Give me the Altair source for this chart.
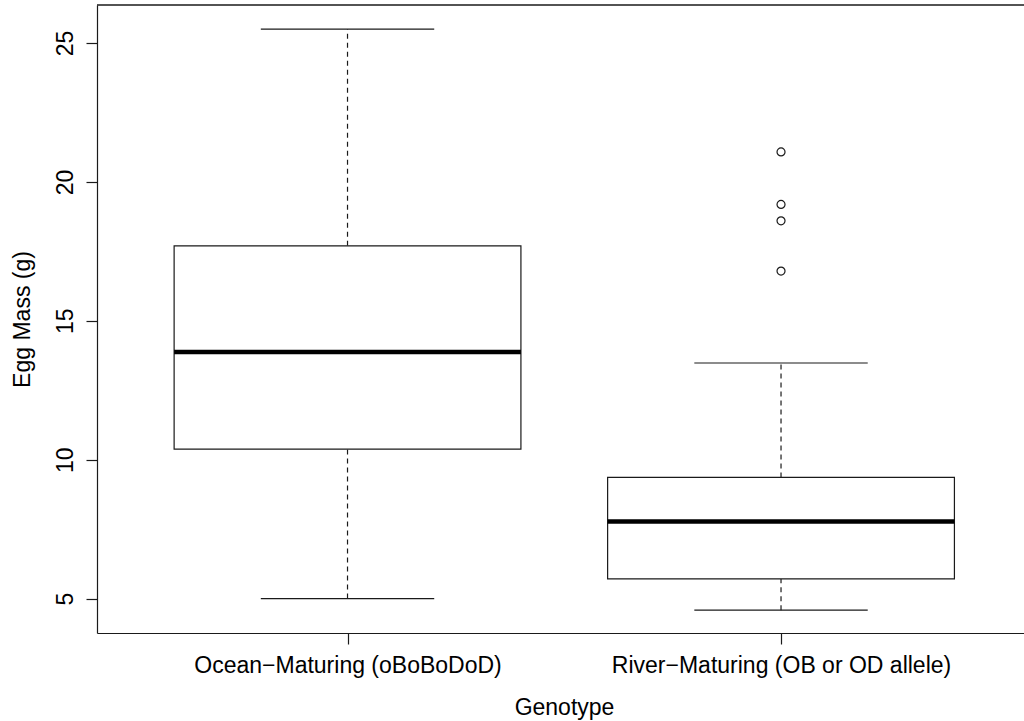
import altair as alt
import pandas as pd

# ---- data ----
groups = ["Ocean\u2212Maturing (oBoBoDoD)", "River\u2212Maturing (OB or OD allele)"]
positions = [1, 2]
lower_whisker = [5.00, 4.58]
q1 = [10.38, 5.71]
medians = [13.88, 7.77]
q3 = [17.70, 9.36]
upper_whisker = [25.50, 13.48]
outlier_positions = [2, 2, 2, 2]
outlier_values = [16.79, 18.60, 19.19, 21.08]
y_ticks = [5, 10, 15, 20, 25]

# ---- style / layout constants ----
BOX_HALF = 0.4
CAP_HALF = 0.2
FONT = "Liberation Sans"
FS = 23
LINE = "#1a1a1a"
W, H = 927, 628

box_df = pd.DataFrame({
    "group": groups,
    "pos": positions,
    "lower": lower_whisker,
    "q1": q1,
    "median": medians,
    "q3": q3,
    "upper": upper_whisker,
})
box_df["left"] = box_df["pos"] - BOX_HALF
box_df["right"] = box_df["pos"] + BOX_HALF
box_df["capL"] = box_df["pos"] - CAP_HALF
box_df["capR"] = box_df["pos"] + CAP_HALF

out_df = pd.DataFrame({"pos": outlier_positions, "value": outlier_values})

x_scale = alt.Scale(domain=[0.4221, 2.5605], nice=False, zero=False)
y_scale = alt.Scale(domain=[3.76, 26.37], nice=False, zero=False)

label_expr = " : ".join(
    f"datum.value == {p} ? '{g}'" for p, g in zip(positions, groups)
) + " : ''"

x_axis = alt.Axis(
    values=positions, labelExpr=label_expr, grid=False,
    tickSize=11, tickColor=LINE, tickWidth=1.2,
    domainColor=LINE, domainWidth=1.2,
    labelFont=FONT, labelFontSize=FS, labelColor="black",
    labelBaseline="alphabetic", labelPadding=28, labelFlush=False,
    labelOverlap=False, labelLimit=0,
    title="Genotype", titleFont=FONT, titleFontSize=FS, titleFontWeight="normal",
    titleColor="black", titleX=467, titleY=81.5, titleAlign="center",
    titleBaseline="alphabetic", titleLimit=0,
)
y_axis = alt.Axis(
    values=y_ticks, grid=False,
    tickSize=11, tickColor=LINE, tickWidth=1.2,
    domainColor=LINE, domainWidth=1.2,
    labelFont=FONT, labelFontSize=FS, labelColor="black",
    labelAngle=270, labelAlign="center", labelBaseline="alphabetic",
    labelPadding=13.5, labelFlush=False, labelOverlap=False, labelLimit=0,
    title="Egg Mass (g)", titleFont=FONT, titleFontSize=FS, titleFontWeight="normal",
    titleColor="black", titleAngle=270, titleX=-67.5, titleY=314,
    titleAlign="center", titleBaseline="alphabetic", titleLimit=0,
)


def X(field):
    return alt.X(field, type="quantitative", scale=x_scale, axis=x_axis)


def Y(field):
    return alt.Y(field, type="quantitative", scale=y_scale, axis=y_axis)


base = alt.Chart(box_df)

whisk_lo = base.mark_rule(color=LINE, strokeWidth=1.2, strokeDash=[5, 4]).encode(
    x=X("pos"), y=Y("lower"), y2="q1")
whisk_hi = base.mark_rule(color=LINE, strokeWidth=1.2, strokeDash=[5, 4]).encode(
    x=X("pos"), y=Y("q3"), y2="upper")
cap_lo = base.mark_rule(color=LINE, strokeWidth=1.2).encode(
    x=X("capL"), x2="capR", y=Y("lower"))
cap_hi = base.mark_rule(color=LINE, strokeWidth=1.2).encode(
    x=X("capL"), x2="capR", y=Y("upper"))
boxes = base.mark_rect(fill="white", stroke=LINE, strokeWidth=1.2).encode(
    x=X("left"), x2="right", y=Y("q1"), y2="q3")
med = base.mark_rule(color="black", strokeWidth=4.5).encode(
    x=X("left"), x2="right", y=Y("median"))
outl = alt.Chart(out_df).mark_point(
    shape="circle", size=64, filled=False, color=LINE, strokeWidth=1.2, opacity=1
).encode(x=X("pos"), y=Y("value"))
top_frame = base.mark_rule(color=LINE, strokeWidth=1.2).encode(
    x=alt.value(0), x2=alt.value(W), y=alt.value(0))

chart = alt.layer(
    top_frame, whisk_lo, whisk_hi, cap_lo, cap_hi, boxes, med, outl
).properties(
    width=W, height=H,
    autosize=alt.AutoSizeParams(type="none"),
    padding={"left": 97, "top": 5, "right": 0, "bottom": 87},
    background="white",
).configure_view(stroke=None)

chart.save("out.html", embed_options={"renderer": "svg", "actions": False})
